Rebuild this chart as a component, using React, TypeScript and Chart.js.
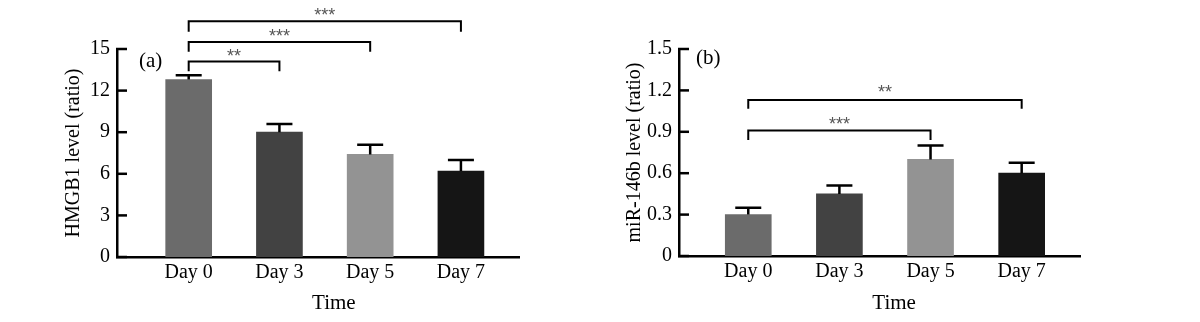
import React, { useEffect, useRef } from 'react';
import { Chart, registerables } from 'chart.js';

Chart.register(...registerables);

// ---------- data ----------
const DAYS = ['Day 0', 'Day 3', 'Day 5', 'Day 7'];
const BAR_COLORS = ['#6b6b6b', '#424242', '#939393', '#151515'];

const HMGB1_MEAN = [12.8, 9.0, 7.4, 6.2];
const HMGB1_ERR = [0.3, 0.6, 0.7, 0.8];
const HMGB1_TICKS = [0, 3, 6, 9, 12, 15];
// significance brackets: [from, to, label, barLevel, legEnd, labelLevel]
const HMGB1_SIG: [number, number, string, number, number, number][] = [
  [0, 1, '**', 14.1, 13.4, 14.7],
  [0, 2, '***', 15.5, 14.8, 16.15],
  [0, 3, '***', 17.0, 16.25, 17.7],
];

const MIR_MEAN = [0.3, 0.45, 0.7, 0.6];
const MIR_ERR = [0.05, 0.06, 0.1, 0.075];
const MIR_TICKS = [0, 0.3, 0.6, 0.9, 1.2, 1.5];
const MIR_SIG: [number, number, string, number, number, number][] = [
  [0, 2, '***', 0.91, 0.84, 0.98],
  [0, 3, '**', 1.13, 1.067, 1.21],
];

const SERIF = '"Liberation Serif", "Times New Roman", serif';
const SANS = '"Liberation Sans", Arial, sans-serif';

interface Panel {
  tag: string;
  tagLevel: number;
  tagDx: number;
  yTitle: string;
  mean: number[];
  err: number[];
  ticks: number[];
  sig: [number, number, string, number, number, number][];
  yMax: number;
  xMin: number;
  xMax: number;
  yWidth: number;
  padTop: number;
  padRight: number;
  xHeight: number;
  titlePad: number;
}

const PANEL_A: Panel = {
  tag: '(a)', tagLevel: 14.1, tagDx: 22,
  yTitle: 'HMGB1 level (ratio)',
  mean: HMGB1_MEAN, err: HMGB1_ERR, ticks: HMGB1_TICKS, sig: HMGB1_SIG,
  yMax: 15, xMin: -0.79, xMax: 3.64,
  yWidth: 117, padTop: 49, padRight: 81, xHeight: 65, titlePad: 62,
};

const PANEL_B: Panel = {
  tag: '(b)', tagLevel: 1.43, tagDx: 17,
  yTitle: 'miR-146b level (ratio)',
  mean: MIR_MEAN, err: MIR_ERR, ticks: MIR_TICKS, sig: MIR_SIG,
  yMax: 1.5, xMin: -0.76, xMax: 3.64,
  yWidth: 79, padTop: 49, padRight: 120, xHeight: 66, titlePad: 23,
};

function overlay(p: Panel) {
  return {
    id: 'overlay' + p.tag,
    afterDraw(chart: any) {
      const ctx = chart.ctx as CanvasRenderingContext2D;
      const xs = chart.scales.x;
      const ys = chart.scales.y;
      const area = chart.chartArea;
      ctx.save();
      // inward y ticks
      ctx.strokeStyle = '#000';
      ctx.lineWidth = 2.5;
      p.ticks.forEach((t) => {
        const y = ys.getPixelForValue(t);
        ctx.beginPath();
        ctx.moveTo(area.left - 1, y);
        ctx.lineTo(area.left + 10, y);
        ctx.stroke();
      });
      // error bars
      ctx.lineWidth = 2.5;
      p.mean.forEach((m, i) => {
        const x = xs.getPixelForValue(i);
        const y0 = ys.getPixelForValue(m);
        const y1 = ys.getPixelForValue(m + p.err[i]);
        ctx.beginPath();
        ctx.moveTo(x, y0);
        ctx.lineTo(x, y1);
        ctx.moveTo(x - 13, y1);
        ctx.lineTo(x + 13, y1);
        ctx.stroke();
      });
      // significance brackets
      ctx.lineWidth = 2;
      p.sig.forEach(([a, b, label, lvl, leg, lab]) => {
        const xa = xs.getPixelForValue(a);
        const xb = xs.getPixelForValue(b);
        const yl = ys.getPixelForValue(lvl);
        const yg = ys.getPixelForValue(leg);
        ctx.strokeStyle = '#000';
        ctx.beginPath();
        ctx.moveTo(xa, yg);
        ctx.lineTo(xa, yl);
        ctx.lineTo(xb, yl);
        ctx.lineTo(xb, yg);
        ctx.stroke();
        ctx.fillStyle = '#555';
        ctx.font = `18px ${SANS}`;
        ctx.textAlign = 'center';
        ctx.textBaseline = 'middle';
        ctx.fillText(label, (xa + xb) / 2, ys.getPixelForValue(lab) + 4);
      });
      // panel tag
      ctx.fillStyle = '#000';
      ctx.font = `21px ${SERIF}`;
      ctx.textAlign = 'left';
      ctx.textBaseline = 'middle';
      ctx.fillText(p.tag, area.left + p.tagDx, ys.getPixelForValue(p.tagLevel));
      // x title
      ctx.font = `21px ${SERIF}`;
      ctx.textAlign = 'center';
      ctx.fillText('Time', xs.getPixelForValue(1.6), 303);
      ctx.restore();
    },
  };
}

function makeConfig(p: Panel): any {
  return {
    type: 'bar',
    data: {
      datasets: [
        {
          data: p.mean.map((v, i) => ({ x: i, y: v })),
          backgroundColor: BAR_COLORS,
          borderWidth: 0,
          barThickness: 46,
        },
      ],
    },
    options: {
      animation: false,
      responsive: false,
      devicePixelRatio: 1,
      layout: { padding: { left: 0, top: p.padTop, right: p.padRight, bottom: 0 } },
      plugins: { legend: { display: false }, tooltip: { enabled: false } },
      scales: {
        x: {
          type: 'linear',
          offset: false,
          min: p.xMin,
          max: p.xMax,
          grid: { display: false, drawTicks: false, offset: false },
          border: { display: true, color: '#000', width: 2.5 },
          afterBuildTicks: (s: any) => {
            s.ticks = DAYS.map((_, i) => ({ value: i }));
          },
          afterFit: (s: any) => {
            s.height = p.xHeight;
          },
          ticks: {
            callback: (v: any) => DAYS[v] ?? '',
            color: '#000',
            font: { family: SERIF, size: 20 },
            padding: 4,
            maxRotation: 0,
            autoSkip: false,
          },
        },
        y: {
          type: 'linear',
          min: 0,
          max: p.yMax,
          grid: { display: false, drawTicks: false },
          border: { display: true, color: '#000', width: 2.5 },
          afterBuildTicks: (s: any) => {
            s.ticks = p.ticks.map((v) => ({ value: v }));
          },
          afterFit: (s: any) => {
            s.width = p.yWidth;
          },
          ticks: {
            callback: (v: any) => String(v),
            color: '#000',
            font: { family: SERIF, size: 20 },
            padding: 7,
          },
          title: {
            display: true,
            text: p.yTitle,
            color: '#000',
            font: { family: SERIF, size: 20 },
            padding: { top: p.titlePad, bottom: 0 },
          },
        },
      },
    },
    plugins: [overlay(p)],
  };
}

function PanelChart({ panel, left }: { panel: Panel; left: number }) {
  const ref = useRef<HTMLCanvasElement>(null);
  useEffect(() => {
    if (!ref.current) return;
    const chart = new Chart(ref.current, makeConfig(panel));
    return () => chart.destroy();
  }, [panel]);
  return (
    <div style={{ position: 'absolute', left, top: 0, width: 600, height: 322 }}>
      <canvas ref={ref} width={600} height={322} style={{ width: 600, height: 322, display: 'block' }} />
    </div>
  );
}

export default function App() {
  return (
    <div style={{ position: 'absolute', left: 0, top: 0, width: 1200, height: 322, background: '#fff', overflow: 'hidden' }}>
      <PanelChart panel={PANEL_A} left={0} />
      <PanelChart panel={PANEL_B} left={600} />
    </div>
  );
}
